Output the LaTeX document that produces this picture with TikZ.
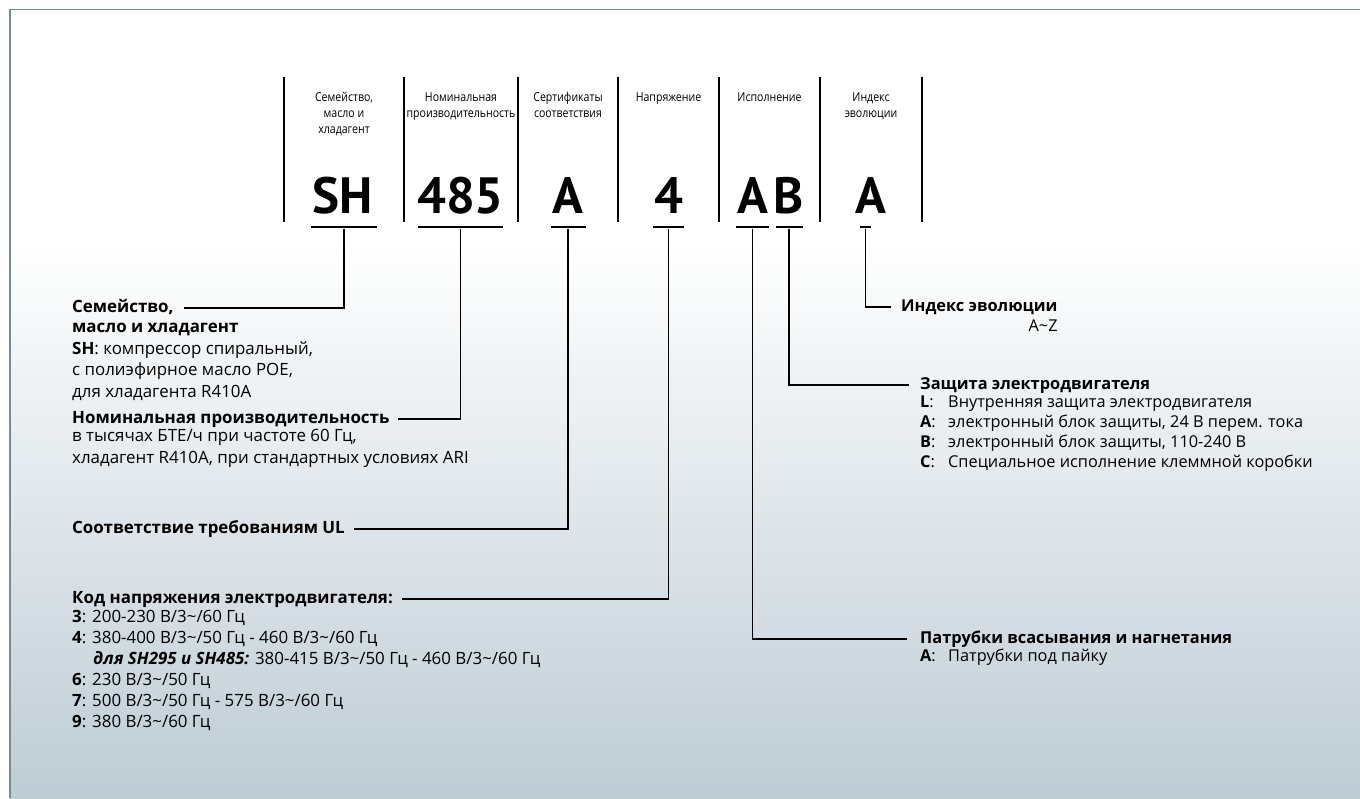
\documentclass[tikz,border=0pt]{standalone}
\usepackage{fontspec}
\setmainfont{Open Sans}
\newfontfamily\condfont[FakeStretch=0.86]{Open Sans}
\newfontfamily\codefont{PT Sans}
\usetikzlibrary{positioning}
\newcommand{\tld}{\textasciitilde}
\newcommand{\lab}[1]{\makebox[28pt][l]{\textbf{#1}:}}
\definecolor{framegray}{RGB}{122,138,146}
\definecolor{shadeblue}{RGB}{190,204,213}

\begin{document}
\begin{tikzpicture}[x=1pt,y=1pt,
  sepline/.style={line width=1.1pt},
  conn/.style={line width=1.9pt},
  ubar/.style={fill=black,inner sep=0pt,minimum height=2.6pt},
  head/.style={font=\condfont\fontsize{12.3}{16}\selectfont,align=center,anchor=north,inner sep=0pt},
  codetxt/.style={font=\codefont\bfseries\fontsize{51}{51}\selectfont,anchor=base,inner sep=0pt},
  ltitle/.style={font=\bfseries\fontsize{16.9}{21.5}\selectfont,anchor=west,inner sep=0pt,text height=13pt,text depth=4pt},
  lbody/.style={font=\fontsize{16.9}{21.5}\selectfont,align=left,anchor=north west,inner sep=0pt},
  rtitle/.style={font=\bfseries\fontsize{16.4}{20}\selectfont,anchor=west,inner sep=0pt,text height=12.7pt,text depth=3.9pt},
  rbody/.style={font=\fontsize{16.3}{20}\selectfont,align=left,anchor=north west,inner sep=0pt}]
\useasboundingbox (0,0) rectangle (1360,-798);
% background and frame
\fill[white] (0,0) rectangle (1360,-798);
\shade[top color=white,bottom color=shadeblue] (10,-240) rectangle (1360,-798);
\draw[framegray,line width=1.5pt] (10,-798) -- (10,-9.5) -- (1360,-9.5);

% columns
\foreach \x in {284,404,518,618,719,820,922}
  \draw[sepline] (\x,-77) -- (\x,-222);
\node[head] (hfam) at (344,-90) {\strut Семейство,\\масло и\\хладагент};
\node[head] (hcap) at (461,-90) {\strut Номинальная\\производительность};
\node[head] (hcert) at (568,-90) {\strut Сертификаты\\соответствия};
\node[head] (hvolt) at (668.5,-90) {\strut Напряжение};
\node[head] (hver) at (769.5,-90) {\strut Исполнение};
\node[head] (hidx) at (871,-90) {\strut Индекс\\эволюции};

% code
\node[codetxt] (cSH) at (343,-213) {SH};
\node[codetxt] (c485) at (460.5,-213) {485};
\node[codetxt] (cA) at (567.5,-213) {A};
\node[codetxt] (c4) at (668.5,-213) {4};
\node[codetxt] (cAa) at (752.5,-213) {A};
\node[codetxt] (cAb) at (789,-213) {B};
\node[codetxt] (cIdx) at (871,-213) {A};
\node[ubar,minimum width=66pt] (bSH) at (344,-227) {};
\node[ubar,minimum width=85pt] (b485) at (460.5,-227) {};
\node[ubar,minimum width=35pt] (bA) at (568,-227) {};
\node[ubar,minimum width=31pt] (b4) at (668.5,-227) {};
\node[ubar,minimum width=33pt] (bAa) at (752.5,-227) {};
\node[ubar,minimum width=27pt] (bAb) at (789,-227) {};
\node[ubar,minimum width=11pt] (bIdx) at (865.5,-227) {};

% left side
\node[ltitle] (lfam) at (72,-308) {Семейство,};
\node[lbody] (lfamtxt) at (72,-317.5) {\strut\textbf{масло и хладагент}\\
  \textbf{SH}: компрессор спиральный,\\с полиэфирное масло POE,\\для хладагента R410A};
\node[ltitle] (lcap) at (72,-419) {Номинальная производительность};
\node[lbody] (lcaptxt) at (72,-426.5) {\strut в тысячах БТЕ/ч при частоте 60 Гц,\\
  хладагент R410A, при стандартных условиях ARI};
\node[ltitle] (lul) at (72,-529) {Соответствие требованиям UL};
\node[ltitle] (lvolt) at (72,-599) {Код напряжения электродвигателя:};
\node[lbody,font=\fontsize{16.9}{21}\selectfont] (lvolttxt) at (72,-607.5) {\strut\textbf{3}: 200-230 В/3\tld/60 Гц\\
  \textbf{4}: 380-400 В/3\tld/50 Гц - 460 В/3\tld/60 Гц\\
  \hspace*{21pt}\textbf{\itshape для SH295 и SH485:} 380-415 В/3\tld/50 Гц - 460 В/3\tld/60 Гц\\
  \textbf{6}: 230 В/3\tld/50 Гц\\
  \textbf{7}: 500 В/3\tld/50 Гц - 575 В/3\tld/60 Гц\\
  \textbf{9}: 380 В/3\tld/60 Гц};

% right side
\node[rtitle] (ridx) at (901,-307) {Индекс эволюции};
\node[rbody,anchor=east,text height=12.7pt,text depth=3.9pt] (ridxval) at ([yshift=-20pt]ridx.east) {A\tld Z};
\node[rtitle] (rprot) at (920,-385) {Защита электродвигателя};
\node[rbody] (rprottxt) at (920,-393.7) {\strut\lab{L}Внутренняя защита электродвигателя\\
  \lab{A}электронный блок защиты, 24 В перем. тока\\
  \lab{B}электронный блок защиты, 110-240 В\\
  \lab{C}Специальное исполнение клеммной коробки};
\node[rtitle] (rpipe) at (920,-639) {Патрубки всасывания и нагнетания};
\node[rbody] (rpipetxt) at (920,-647) {\strut\lab{A}Патрубки под пайку};

% connectors
\draw[conn] (bSH.south) |- ([xshift=10pt]lfam.east);
\draw[conn] (b485.south) |- ([xshift=8pt]lcap.east);
\draw[conn] (bA.south) |- ([xshift=9pt]lul.east);
\draw[conn] (b4.south) |- ([xshift=9pt]lvolt.east);
\draw[conn] (bIdx.south) |- ([xshift=-10pt]ridx.west);
\draw[conn] (bAb.south) |- ([xshift=-11pt]rprot.west);
\draw[conn] (bAa.south) |- ([xshift=-13pt]rpipe.west);
\end{tikzpicture}
\end{document}
